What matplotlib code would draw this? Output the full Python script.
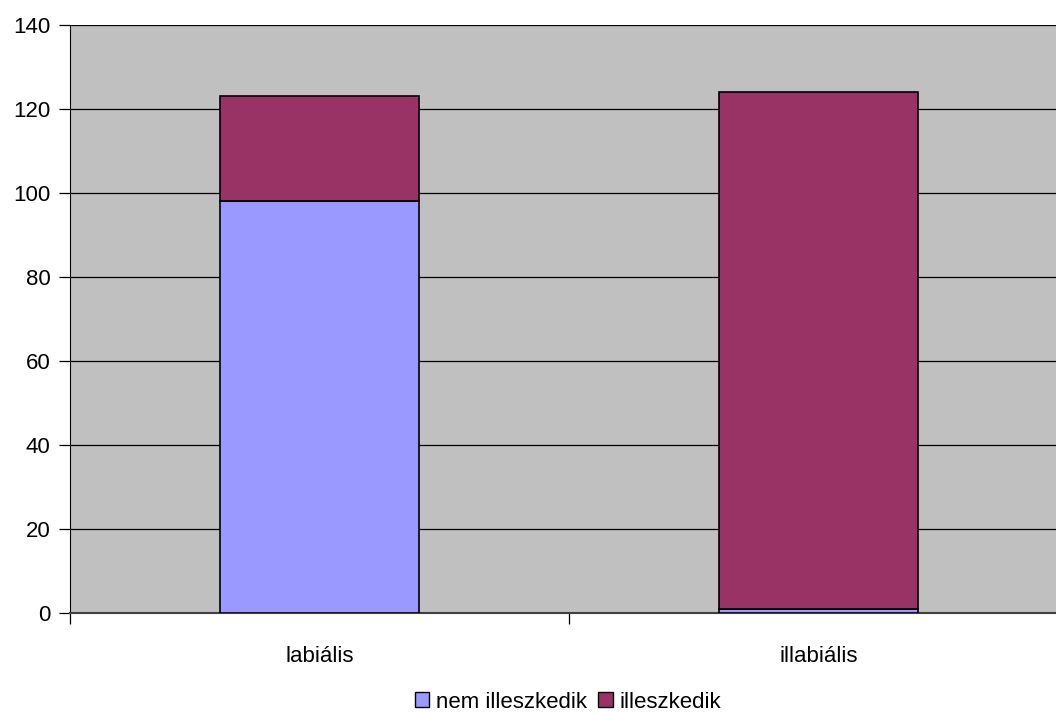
import numpy as np
import matplotlib.pyplot as plt
from matplotlib.patches import Patch

categories = ["labiális", "illabiális"]
nem_illeszkedik = [98, 1]
illeszkedik = [25, 123]
series_labels = ["nem illeszkedik", "illeszkedik"]
y_ticks = [0, 20, 40, 60, 80, 100, 120, 140]

plt.rcParams["font.family"] = ["Liberation Sans", "DejaVu Sans"]

fig = plt.figure(figsize=(10.56, 7.14), dpi=100)
ax = fig.add_axes([70 / 1056, 1 - 613 / 714, 998 / 1056, 588 / 714])
ax.set_facecolor("#C0C0C0")

x = np.arange(len(categories)) + 0.5
ax.bar(x, nem_illeszkedik, width=0.4, color="#9999FF", edgecolor="black",
       linewidth=1.2, zorder=3)
ax.bar(x, illeszkedik, width=0.4, bottom=nem_illeszkedik, color="#993366",
       edgecolor="black", linewidth=1.2, zorder=3)

ax.set_xlim(0, 2)
ax.set_ylim(0, 140)
ax.set_yticks(y_ticks)
ax.yaxis.grid(True, color="black", linewidth=0.9, zorder=1)
ax.set_axisbelow(True)

ax.set_xticks(x)
ax.set_xticklabels(categories, fontsize=16)
ax.set_xticks([0, 1, 2], minor=True)
ax.tick_params(axis="x", which="major", length=0, pad=24)
ax.tick_params(axis="x", which="minor", length=8, width=0.9, direction="out")
ax.tick_params(axis="y", labelsize=16, length=8, width=0.9, direction="out", pad=6)

for side in ["top", "right"]:
    ax.spines[side].set_visible(False)
ax.spines["left"].set_color("black")
ax.spines["bottom"].set_color("#404040")
ax.spines["bottom"].set_linewidth(1.5)

handles = [Patch(facecolor="#9999FF", edgecolor="black", linewidth=1.0),
           Patch(facecolor="#993366", edgecolor="black", linewidth=1.0)]
fig.legend(handles, series_labels, loc="center", bbox_to_anchor=(568 / 1056, 1 - 702 / 714),
           ncol=2, frameon=False, fontsize=16, handlelength=0.65, handleheight=0.65,
           handletextpad=0.3, columnspacing=0.5, borderpad=0)

fig.savefig("out.png", dpi=100)
